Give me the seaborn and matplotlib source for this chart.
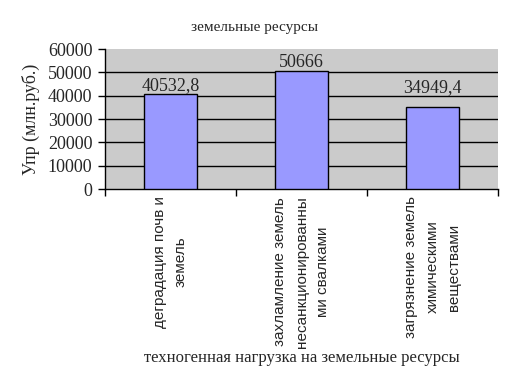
import pandas as pd
import matplotlib
matplotlib.use("Agg")
import matplotlib.pyplot as plt
import seaborn as sns

# Chart data
categories = [
    "деградация почв и\nземель",
    "захламление земель\nнесанкционированны\nми свалками",
    "загрязнение земель\nхимическими\nвеществами",
]
values = [40532.8, 50666, 34949.4]
value_labels = ["40532,8", "50666", "34949,4"]
y_ticks = [0, 10000, 20000, 30000, 40000, 50000, 60000]

df = pd.DataFrame({"category": categories, "value": values})

sns.set_style("white")
plt.rcParams["font.family"] = ["Liberation Serif", "DejaVu Serif"]

fig = plt.figure(figsize=(5.13, 3.79), dpi=100)
ax = fig.add_axes([105 / 513, 1 - 189 / 379, 393 / 513, 140 / 379])
ax.set_facecolor("#cbcbcb")

sns.barplot(data=df, x="category", y="value", ax=ax, width=0.4,
            color="#9999ff", edgecolor="black", linewidth=1.0,
            saturation=1, zorder=3)

# horizontal gridlines
for t in y_ticks[1:-1]:
    ax.axhline(t, color="black", linewidth=1.0, zorder=1)

ax.set_xlim(-0.5, 2.5)
ax.set_ylim(0, 60000)
ax.set_yticks(y_ticks)
ax.set_yticklabels([str(t) for t in y_ticks], fontsize=13)
ax.tick_params(axis="y", length=5, width=1, color="black", pad=4, left=True)

# category labels, rotated, no tick marks at centers
ax.set_xticks(range(len(categories)))
ax.set_xticklabels(categories, rotation=90, fontsize=11,
                   family=["Liberation Sans", "DejaVu Sans"],
                   multialignment="center", linespacing=1.65)
ax.tick_params(axis="x", length=0, pad=5)
ax.set_xticks([-0.5, 0.5, 1.5, 2.5], minor=True)
ax.tick_params(axis="x", which="minor", length=5, width=1, color="black", bottom=True)

for side in ["top", "right"]:
    ax.spines[side].set_visible(False)
ax.spines["left"].set_color("black")
ax.spines["bottom"].set_color("black")
ax.spines["left"].set_linewidth(1)
ax.spines["bottom"].set_linewidth(1)

# data labels (Excel placed the third one higher)
offsets = [0, 0, 8]
for i, (v, lab) in enumerate(zip(values, value_labels)):
    ax.annotate(lab, (i, v), xytext=(0, offsets[i]), textcoords="offset points",
                ha="center", va="bottom", fontsize=13, zorder=4)

ax.set_ylabel("Упр (млн.руб.)", fontsize=13, labelpad=6)
ax.set_xlabel("техногенная нагрузка на земельные ресурсы", fontsize=12, labelpad=2)
fig.text(255 / 513, 1 - 27 / 379, "земельные ресурсы", ha="center", va="center", fontsize=11)

fig.savefig("out.png", dpi=100)
